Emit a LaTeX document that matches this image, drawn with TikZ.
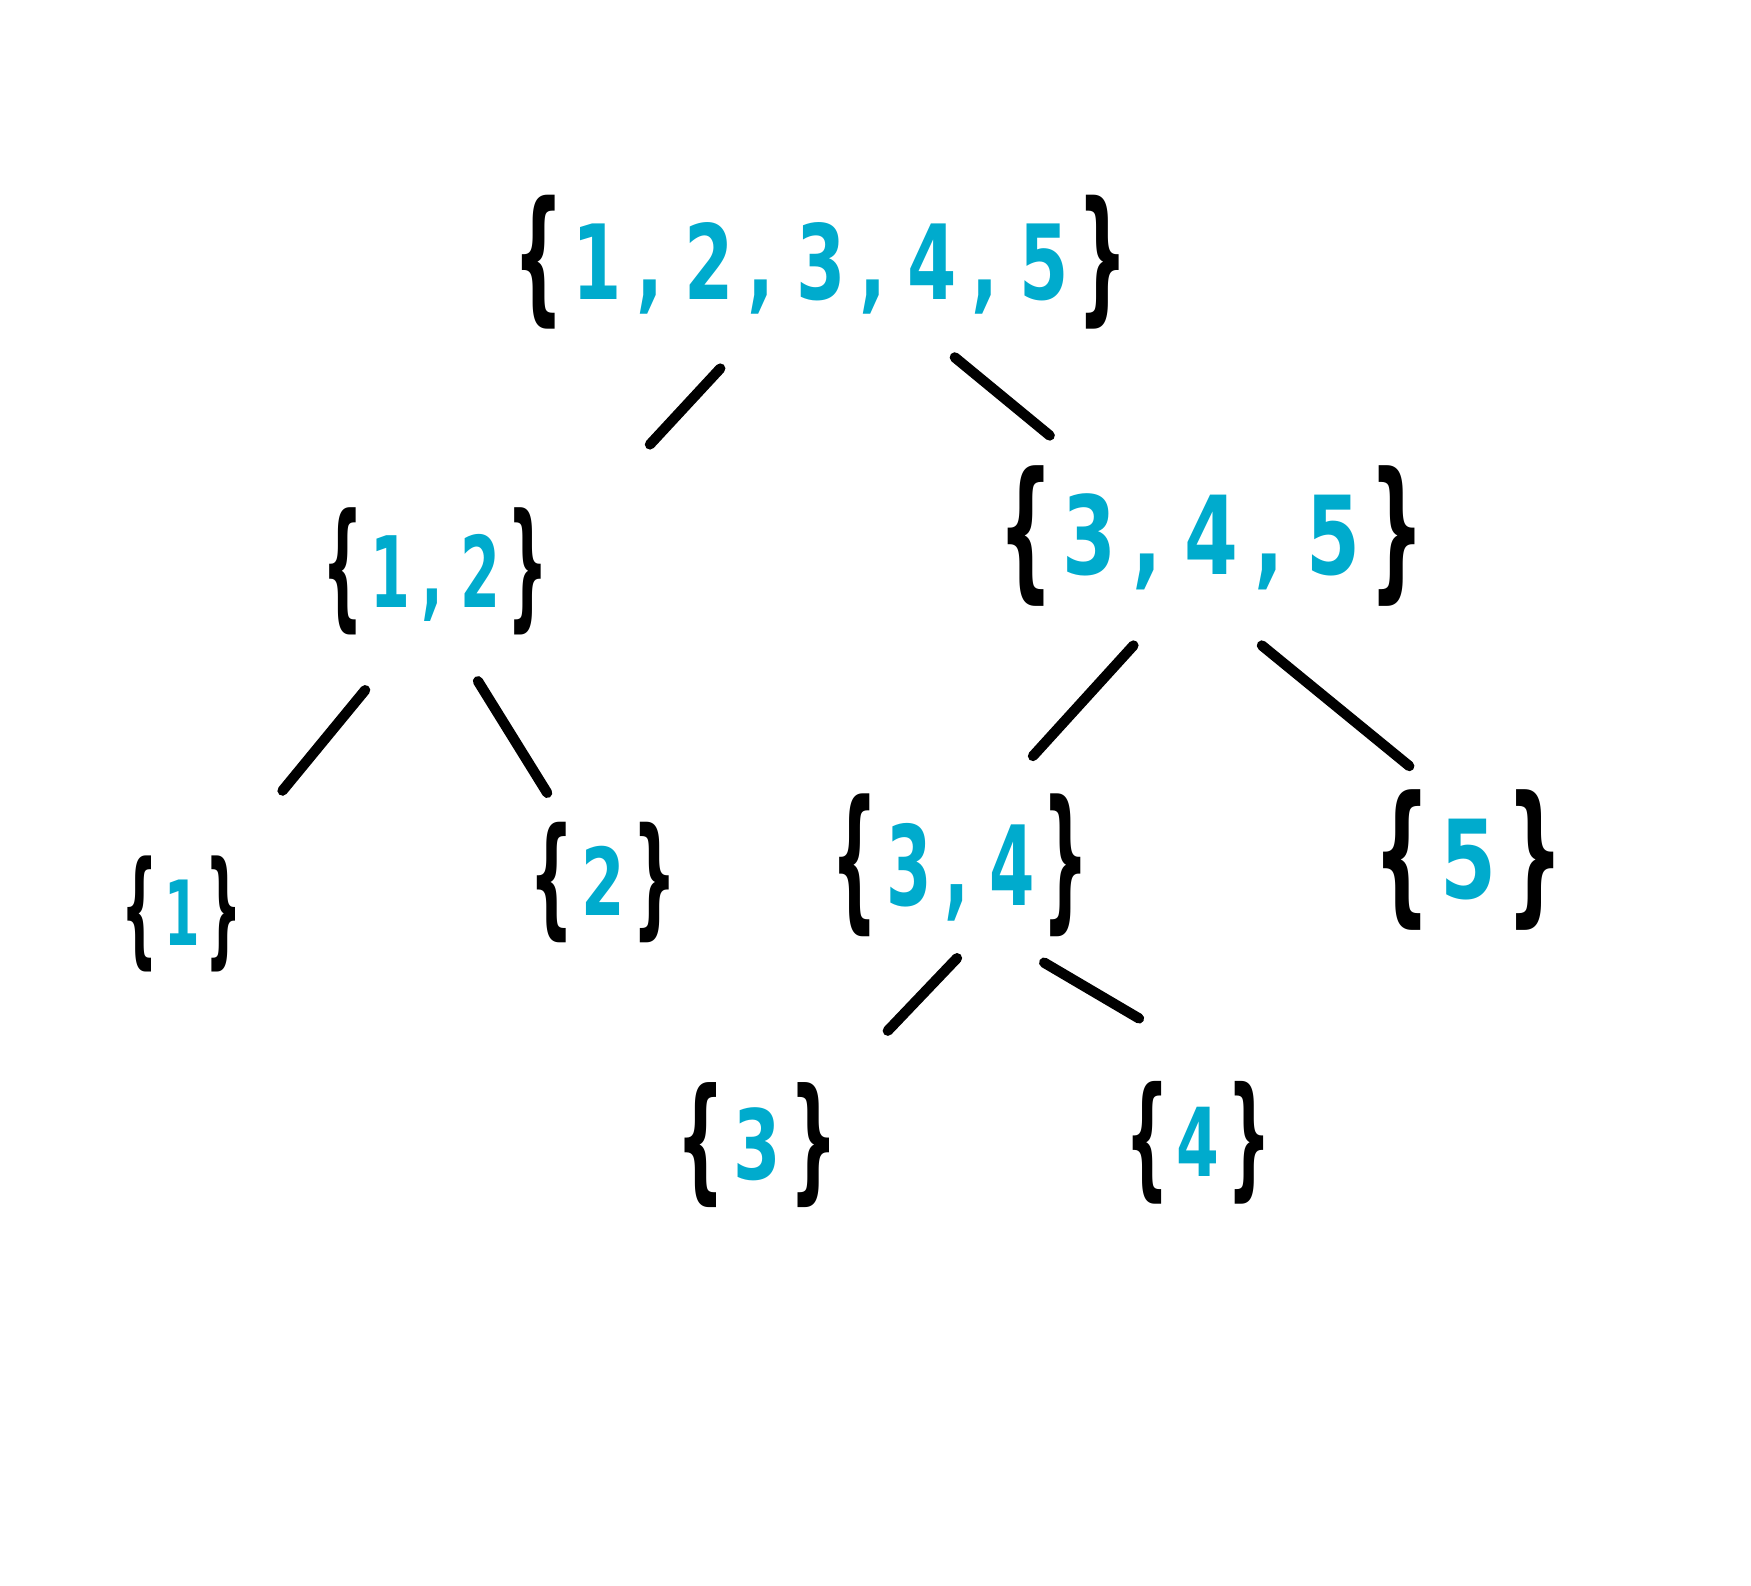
\documentclass[tikz,border=0pt]{standalone}
\usepackage{fontspec}
\usepackage{graphicx}
\setmainfont{DejaVu Sans}
\usetikzlibrary{calc}
\definecolor{numcol}{HTML}{00ABCD}
\newcommand{\LB}{\textcolor{black}{\raisebox{-0.06em}{\scalebox{1}[1.4]{\{}}}}
\newcommand{\RB}{\textcolor{black}{\raisebox{-0.06em}{\scalebox{1}[1.4]{\}}}}}
\newcommand{\Cm}{\hspace{0.2em},\hspace{0.3em}}
\newcommand{\SetTxt}[3]{\resizebox*{#1pt}{#2pt}{\bfseries\fontsize{42pt}{50pt}\selectfont\LB\hspace{0.12em}\textcolor{numcol}{#3}\hspace{0.12em}\RB}}
\begin{document}
\begin{tikzpicture}[x=0.5pt,y=-0.5pt,
  setnode/.style={inner sep=0pt,outer sep=0pt,anchor=center},
  edge/.style={line width=4.6pt,line cap=round,black}]
\useasboundingbox (0,0) rectangle (1568,1420);
\node[setnode] (root) at (735,235) {\SetTxt{275}{60}{1\Cm 2\Cm 3\Cm 4\Cm 5}};
\node[setnode] (n12) at (390,512) {\SetTxt{101}{57}{1\Cm 2}};
\node[setnode] (n345) at (1085,480) {\SetTxt{191}{63}{3\Cm 4\Cm 5}};
\node[setnode] (n1) at (163,818) {\SetTxt{54}{52}{1}};
\node[setnode] (n2) at (540,790) {\SetTxt{66}{54}{2}};
\node[setnode] (n34) at (860,775) {\SetTxt{115}{64}{3\Cm 4}};
\node[setnode] (n5) at (1315,770) {\SetTxt{85}{63}{5}};
\node[setnode] (n3) at (678,1025) {\SetTxt{72}{56}{3}};
\node[setnode] (n4) at (1073,1023) {\SetTxt{65}{55}{4}};
\draw[edge] ($(root.center)+(-90,95)$) -- ($(n12.center)+(192,-114)$);
\draw[edge] ($(root.center)+(120,85)$) -- ($(n345.center)+(-145,-90)$);
\draw[edge] ($(n12.center)+(-63,106)$) -- ($(n1.center)+(90,-110)$);
\draw[edge] ($(n12.center)+(38,98)$) -- ($(n2.center)+(-50,-80)$);
\draw[edge] ($(n345.center)+(-70,98)$) -- ($(n34.center)+(65,-98)$);
\draw[edge] ($(n345.center)+(45,98)$) -- ($(n5.center)+(-53,-84)$);
\draw[edge] ($(n34.center)+(-3,83)$) -- ($(n3.center)+(117,-102)$);
\draw[edge] ($(n34.center)+(75,87)$) -- ($(n4.center)+(-53,-111)$);
\end{tikzpicture}
\end{document}
